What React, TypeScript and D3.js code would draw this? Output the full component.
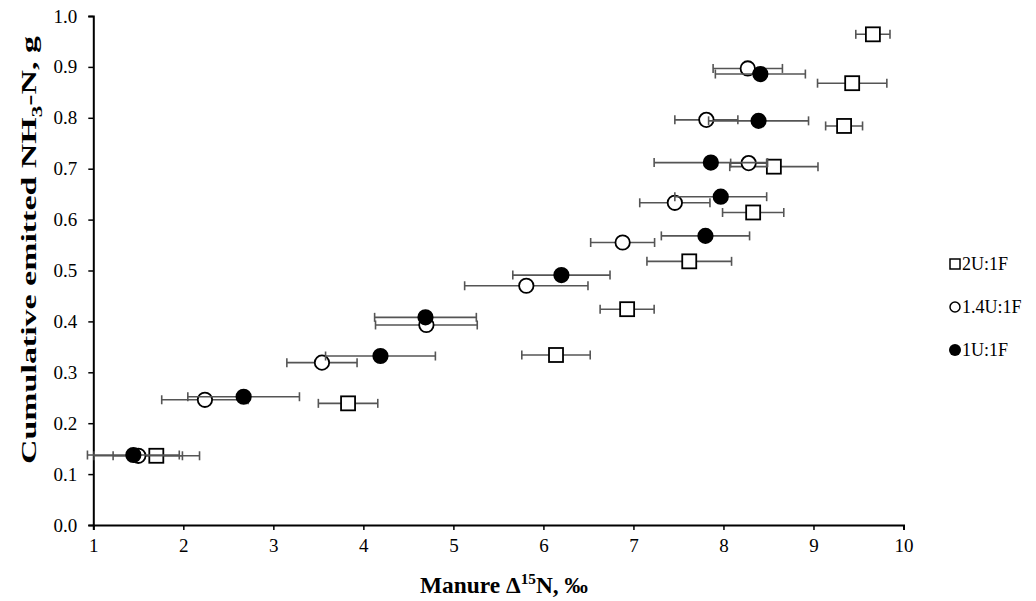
import React, { useEffect, useRef } from 'react';
import * as d3 from 'd3';

// 2U:1F (open squares)
const sqX = [1.70, 3.83, 6.14, 6.93, 7.62, 8.33, 8.56, 9.34, 9.43, 9.66];
const sqY = [0.136, 0.239, 0.334, 0.424, 0.518, 0.614, 0.704, 0.784, 0.868, 0.964];
const sqErr = [0.48, 0.33, 0.38, 0.30, 0.47, 0.34, 0.49, 0.205, 0.385, 0.19];

// 1.4U:1F (open circles)
const ocX = [1.50, 2.24, 3.54, 4.70, 5.81, 6.88, 7.46, 8.28, 7.81, 8.27];
const ocY = [0.136, 0.246, 0.319, 0.393, 0.470, 0.555, 0.633, 0.711, 0.796, 0.897];
const ocErr = [0.49, 0.48, 0.39, 0.565, 0.685, 0.355, 0.39, 0.20, 0.35, 0.385];

// 1U:1F (filled circles)
const fcX = [1.445, 2.67, 4.19, 4.69, 6.20, 7.80, 7.97, 7.86, 8.39, 8.41];
const fcY = [0.1375, 0.252, 0.332, 0.408, 0.491, 0.568, 0.645, 0.712, 0.794, 0.886];
const fcErr = [0.51, 0.62, 0.61, 0.565, 0.54, 0.49, 0.51, 0.63, 0.555, 0.50];

const xTicks = [1, 2, 3, 4, 5, 6, 7, 8, 9, 10];
const yTicks = [0, 0.1, 0.2, 0.3, 0.4, 0.5, 0.6, 0.7, 0.8, 0.9, 1.0];
const legendLabels = ['2U:1F', '1.4U:1F', '1U:1F'];

const W = 1036;
const H = 601;
const FONT = '"Liberation Serif", "Times New Roman", serif';

export default function App() {
  const svgRef = useRef<SVGSVGElement>(null);

  useEffect(() => {
    const svg = d3.select(svgRef.current);
    svg.selectAll('*').remove();

    const x = d3.scaleLinear().domain([1, 10]).range([93.3, 903.5]);
    const y = d3.scaleLinear().domain([0, 1]).range([525, 16]);

    // axes
    const gx = svg.append('g')
      .attr('transform', `translate(0,${y(0)})`)
      .call(d3.axisBottom(x).tickValues(xTicks).tickSizeOuter(0).tickSize(5).tickPadding(9)
        .tickFormat(d3.format('d')));
    const gy = svg.append('g')
      .attr('transform', `translate(${x(1)},0)`)
      .call(d3.axisLeft(y).tickValues(yTicks).tickSizeOuter(0).tickSize(5).tickPadding(11)
        .tickFormat(d3.format('.1f')));
    [gx, gy].forEach(g => {
      g.select('.domain').attr('stroke', '#000').attr('stroke-width', 2);
      g.selectAll('.tick line').attr('stroke', '#000').attr('stroke-width', 1.5);
      g.selectAll('.tick text')
        .attr('fill', '#000')
        .style('font-family', FONT)
        .style('font-size', '19px');
    });

    const series = [
      { xs: sqX, ys: sqY, es: sqErr, kind: 'square' },
      { xs: ocX, ys: ocY, es: ocErr, kind: 'open' },
      { xs: fcX, ys: fcY, es: fcErr, kind: 'filled' },
    ];

    const cap = 4.5;
    series.forEach(s => {
      const pts = s.xs.map((v, i) => ({ x: v, y: s.ys[i], e: s.es[i] }));
      const g = svg.append('g');
      const eb = g.selectAll('g.eb').data(pts).enter().append('g')
        .attr('stroke', '#555').attr('stroke-width', 1.6);
      eb.append('line')
        .attr('x1', d => x(d.x - d.e)).attr('x2', d => x(d.x + d.e))
        .attr('y1', d => y(d.y)).attr('y2', d => y(d.y));
      eb.append('line')
        .attr('x1', d => x(d.x - d.e)).attr('x2', d => x(d.x - d.e))
        .attr('y1', d => y(d.y) - cap).attr('y2', d => y(d.y) + cap);
      eb.append('line')
        .attr('x1', d => x(d.x + d.e)).attr('x2', d => x(d.x + d.e))
        .attr('y1', d => y(d.y) - cap).attr('y2', d => y(d.y) + cap);

      if (s.kind === 'square') {
        g.selectAll('rect').data(pts).enter().append('rect')
          .attr('x', d => x(d.x) - 7).attr('y', d => y(d.y) - 7)
          .attr('width', 14).attr('height', 14)
          .attr('fill', '#fff').attr('stroke', '#000').attr('stroke-width', 1.8);
      } else {
        g.selectAll('circle').data(pts).enter().append('circle')
          .attr('cx', d => x(d.x)).attr('cy', d => y(d.y)).attr('r', 7.2)
          .attr('fill', s.kind === 'open' ? '#fff' : '#000')
          .attr('stroke', '#000').attr('stroke-width', 1.8);
      }
    });

    // legend
    const leg = svg.append('g').attr('transform', 'translate(955,0)');
    const rowsY = [264, 307, 350];
    leg.append('rect').attr('x', -5).attr('y', rowsY[0] - 5).attr('width', 10).attr('height', 10)
      .attr('fill', '#fff').attr('stroke', '#000').attr('stroke-width', 1.5);
    leg.append('circle').attr('cx', 0).attr('cy', rowsY[1]).attr('r', 5)
      .attr('fill', '#fff').attr('stroke', '#000').attr('stroke-width', 1.5);
    leg.append('circle').attr('cx', 0).attr('cy', rowsY[2]).attr('r', 6)
      .attr('fill', '#000');
    leg.selectAll('text.lg').data(legendLabels).enter().append('text')
      .attr('x', 7).attr('y', (d, i) => rowsY[i] + 6)
      .style('font-family', FONT).style('font-size', '18px')
      .text(d => d);

    // axis titles
    const xt = svg.append('text')
      .attr('x', 504).attr('y', 593)
      .attr('text-anchor', 'middle')
      .attr('textLength', 168).attr('lengthAdjust', 'spacingAndGlyphs')
      .style('font-family', FONT).style('font-size', '23px').style('font-weight', 'bold');
    xt.append('tspan').text('Manure Δ');
    xt.append('tspan').attr('dy', -9).style('font-size', '15px').text('15');
    xt.append('tspan').attr('dy', 9).text('N, ‰');

    const yt = svg.append('text')
      .attr('transform', 'translate(36,250) rotate(-90)')
      .attr('text-anchor', 'middle')
      .attr('textLength', 428).attr('lengthAdjust', 'spacingAndGlyphs')
      .style('font-family', FONT).style('font-size', '22px').style('font-weight', 'bold');
    yt.append('tspan').text('Cumulative emitted NH');
    yt.append('tspan').attr('dy', 6).style('font-size', '15px').text('3');
    yt.append('tspan').attr('dy', -6).text('-N, g');
  }, []);

  return (
    <svg
      ref={svgRef}
      width={W}
      height={H}
      style={{ position: 'absolute', left: 0, top: 0, background: '#fff' }}
    />
  );
}
